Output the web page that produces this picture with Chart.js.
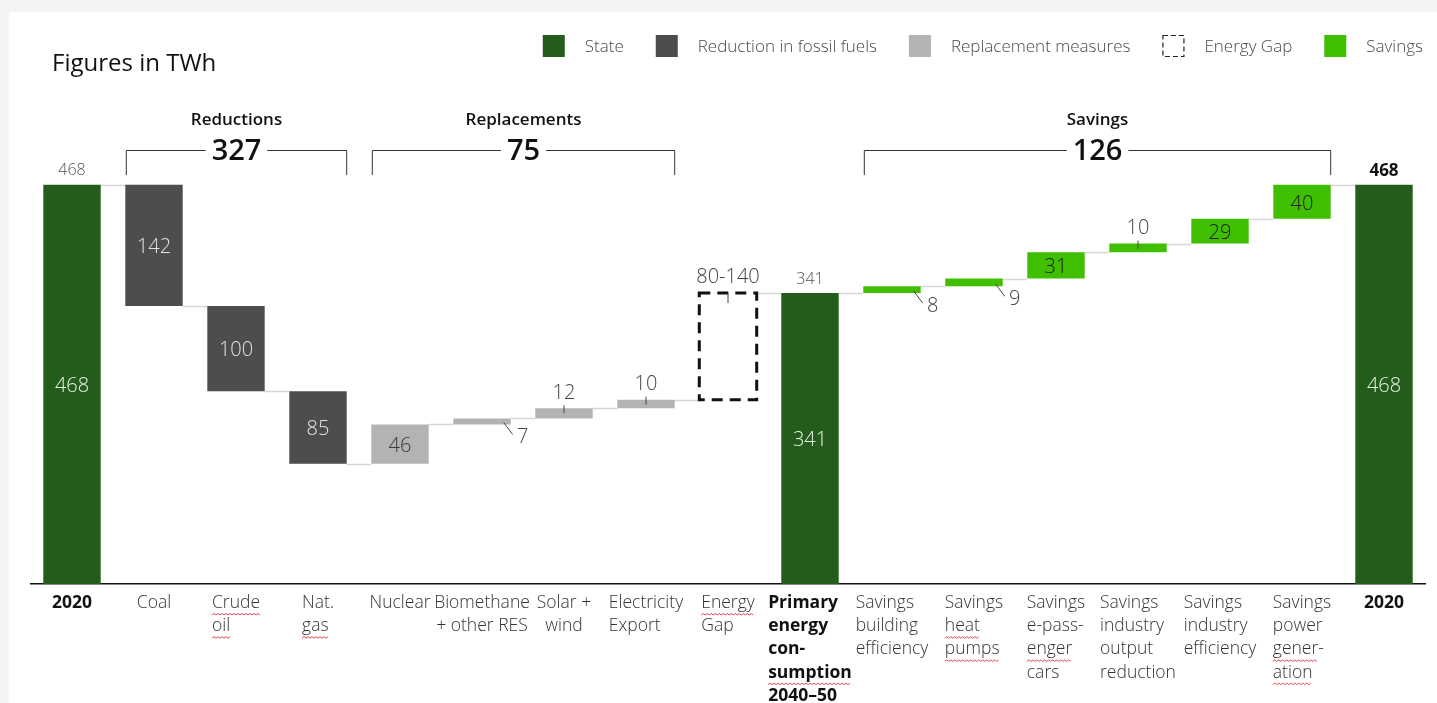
<!DOCTYPE html>
<html>
<head>
<meta charset="utf-8">
<script src="https://cdn.jsdelivr.net/npm/chart.js@4.4.0/dist/chart.umd.min.js"></script>
<style>
    html, body { margin: 0; padding: 0; background: #f4f4f4; }
    body { width: 1437px; height: 703px; overflow: hidden; position: relative; }
    .panel { position: absolute; left: 9px; top: 12px; width: 1428px; height: 691px; background: #fff; }
</style>
</head>
<body>
<div class="panel"><canvas id="myChart"></canvas></div>
<script>
'use strict';

/* data */
const categories = [
    ['2020'], ['Coal'], ['Crude', 'oil'], ['Nat.', 'gas'], ['Nuclear'],
    ['Biomethane', '+ other RES'], ['Solar +', 'wind'], ['Electricity', 'Export'], ['Energy', 'Gap'],
    ['Primary', 'energy', 'con-', 'sumption', '2040–50'],
    ['Savings', 'building', 'efficiency'], ['Savings', 'heat', 'pumps'], ['Savings', 'e-pass-', 'enger', 'cars'],
    ['Savings', 'industry', 'output', 'reduction'], ['Savings', 'industry', 'efficiency'],
    ['Savings', 'power', 'gener-', 'ation'], ['2020']
];
const steps = [468, -142, -100, -85, 46, 7, 12, 10, 125, 341, 8, 9, 31, 10, 29, 40, 468];
const stepKinds = ['state', 'reduction', 'reduction', 'reduction', 'replacement', 'replacement', 'replacement',
    'replacement', 'gap', 'state', 'saving', 'saving', 'saving', 'saving', 'saving', 'saving', 'state'];
const valueLabels = ['468', '142', '100', '85', '46', '7', '12', '10', '80-140', '341', '8', '9', '31', '10', '29', '40', '468'];
const groupTitles = ['Reductions', 'Replacements', 'Savings'];
const groupTotals = ['327', '75', '126'];
const groupFirst = [1, 4, 10];
const groupLast = [3, 7, 15];

/* styles */
const labelPlaces = ['in', 'in', 'in', 'in', 'in', 'below', 'above', 'above', 'gap', 'in',
    'below', 'below', 'in', 'above', 'in', 'in', 'in'];
const centeredLabels = [5, 6];
// spell-check squiggles seen under some category words ("category:line")
const squiggles = ['2:0', '2:1', '3:1', '8:0', '9:3', '11:1', '11:2', '12:2', '15:2', '15:3'];
const kinds = [
    { key: 'state', label: 'State', color: '#245c1b', text: '#e9f0e7' },
    { key: 'reduction', label: 'Reduction in fossil fuels', color: '#4d4d4d', text: '#e2e2e2' },
    { key: 'replacement', label: 'Replacement measures', color: '#b3b3b3', text: '#3a3a3a' },
    { key: 'gap', label: 'Energy Gap', color: 'rgba(0,0,0,0)', text: '#3a3a3a' },
    { key: 'saving', label: 'Savings', color: '#3fbf00', text: '#1c1c1c' }
];
const FONT = '"Open Sans", "Noto Sans", sans-serif';

/* running totals -> floating bars */
const ranges = [];
const running = [];
let level = 0;
steps.forEach(function(step, i) {
    if (stepKinds[i] === 'state') {
        ranges.push([0, step]);
        level = step;
    } else {
        ranges.push([level, level + step]);
        level += step;
    }
    running.push(level);
});

const datasets = kinds.map(function(kind) {
    return {
        label: kind.label,
        data: ranges.map(function(r, i) { return stepKinds[i] === kind.key ? r : null; }),
        backgroundColor: kind.color,
        borderWidth: 0,
        grouped: false,
        barPercentage: 0.7,
        categoryPercentage: 1
    };
});

function kindIndex(key) {
    return kinds.findIndex(function(k) { return k.key === key; });
}

function barBox(chart, i) {
    const el = chart.getDatasetMeta(kindIndex(stepKinds[i])).data[i];
    const half = el.width / 2;
    return { x: el.x, left: el.x - half, right: el.x + half,
        top: Math.min(el.y, el.base), bottom: Math.max(el.y, el.base) };
}

function txt(ctx, str, x, y, font, color, align) {
    ctx.font = font;
    ctx.fillStyle = color;
    ctx.textAlign = align || 'center';
    ctx.textBaseline = 'middle';
    ctx.fillText(str, x, y);
}

function line(ctx, x1, y1, x2, y2, color, width) {
    ctx.beginPath();
    ctx.strokeStyle = color;
    ctx.lineWidth = width;
    ctx.moveTo(x1, y1);
    ctx.lineTo(x2, y2);
    ctx.stroke();
}

function squiggle(ctx, x1, x2, y) {
    ctx.beginPath();
    ctx.strokeStyle = '#e5484d';
    ctx.lineWidth = 1;
    let up = true;
    ctx.moveTo(x1, y);
    for (let x = x1 + 2; x <= x2; x += 2) {
        ctx.lineTo(x, up ? y - 1.5 : y);
        up = !up;
    }
    ctx.stroke();
}

const waterfallPlugin = {
    id: 'waterfall',
    beforeDatasetsDraw: function(chart) {
        const ctx = chart.ctx;
        const yScale = chart.scales.y;
        ctx.save();
        for (let i = 0; i < steps.length - 1; i++) {
            const a = barBox(chart, i);
            const b = barBox(chart, i + 1);
            const y = Math.round(yScale.getPixelForValue(running[i])) + 0.5;
            line(ctx, a.right, y, b.left, y, '#d6d6d6', 1.5);
        }
        ctx.restore();
    },
    afterDatasetsDraw: function(chart) {
        const ctx = chart.ctx;
        const area = chart.chartArea;
        ctx.save();

        /* title */
        txt(ctx, 'Figures in TWh', 43, 52, '400 24px ' + FONT, '#111', 'left');

        /* legend, right aligned */
        const legendFont = '300 17px ' + FONT;
        ctx.font = legendFont;
        const widths = kinds.map(function(k) { return ctx.measureText(k.label).width; });
        let total = 0;
        widths.forEach(function(w) { total += 22 + 20 + w; });
        total += 32 * (kinds.length - 1);
        let lx = 1414 - total;
        kinds.forEach(function(k, n) {
            if (k.key === 'gap') {
                ctx.setLineDash([5, 3]);
                ctx.strokeStyle = '#222';
                ctx.lineWidth = 1.2;
                ctx.strokeRect(lx + 0.5, 23.5, 21, 21);
                ctx.setLineDash([]);
            } else {
                ctx.fillStyle = k.color;
                ctx.fillRect(lx, 23, 22, 22);
            }
            txt(ctx, k.label, lx + 42, 35, legendFont, '#4a4a4a', 'left');
            lx += 42 + widths[n] + 32;
        });

        /* group brackets */
        groupTitles.forEach(function(title, g) {
            const left = barBox(chart, groupFirst[g]).left + 1;
            const right = barBox(chart, groupLast[g]).right;
            const mid = (left + right) / 2;
            txt(ctx, title, mid, 108, '600 17px ' + FONT, '#111');
            ctx.font = '600 29px ' + FONT;
            const w = ctx.measureText(groupTotals[g]).width;
            txt(ctx, groupTotals[g], mid, 140, '600 29px ' + FONT, '#111');
            line(ctx, left, 163, left, 138.5, '#333', 1);
            line(ctx, left, 138.5, mid - w / 2 - 6, 138.5, '#333', 1);
            line(ctx, mid + w / 2 + 6, 138.5, right, 138.5, '#333', 1);
            line(ctx, right, 138.5, right, 163, '#333', 1);
        });

        /* bars: gap box and value labels */
        steps.forEach(function(step, i) {
            const box = barBox(chart, i);
            const kind = kinds[kindIndex(stepKinds[i])];
            const place = labelPlaces[i];
            if (stepKinds[i] === 'gap') {
                ctx.setLineDash([11, 7]);
                ctx.strokeStyle = '#111';
                ctx.lineWidth = 3;
                ctx.strokeRect(box.left, box.top, box.right - box.left, box.bottom - box.top);
                ctx.setLineDash([]);
            }
            if (place === 'in') {
                txt(ctx, valueLabels[i], box.x, (box.top + box.bottom) / 2 + 2, '300 20px ' + FONT, kind.text);
            } else if (place === 'above') {
                line(ctx, box.x, box.top - 3, box.x, box.top + 5, '#444', 1);
                txt(ctx, valueLabels[i], box.x, box.top - 15, '300 20px ' + FONT, '#444');
            } else if (place === 'gap') {
                line(ctx, box.x, box.top, box.x, box.top + 10, '#444', 1);
                txt(ctx, valueLabels[i], box.x, box.top - 16, '300 20px ' + FONT, '#444');
            } else if (place === 'below') {
                line(ctx, box.right - 7, box.bottom - 2, box.right + 2, box.bottom + 10, '#444', 1);
                txt(ctx, valueLabels[i], box.right + 12, box.bottom + 13, '300 20px ' + FONT, '#444');
            }
            if (stepKinds[i] === 'state') {
                const last = i === steps.length - 1;
                txt(ctx, valueLabels[i], box.x, box.top - 14,
                    (last ? '700 17px ' : '300 16px ') + FONT, last ? '#111' : '#555');
            }
        });

        /* category labels */
        categories.forEach(function(lines, i) {
            const x = chart.scales.x.getPixelForValue(i);
            const bold = stepKinds[i] === 'state';
            const font = (bold ? '700 17.5px ' : '300 17.5px ') + FONT;
            const centered = centeredLabels.indexOf(i) >= 0;
            ctx.font = font;
            let maxW = 0;
            lines.forEach(function(s) { maxW = Math.max(maxW, ctx.measureText(s).width); });
            lines.forEach(function(s, n) {
                const y = area.bottom + 19 + n * 23.2;
                ctx.font = font;
                const w = ctx.measureText(s).width;
                const sx = centered ? x - w / 2 : x - maxW / 2;
                txt(ctx, s, sx, y, font, bold ? '#111' : '#333', 'left');
                if (squiggles.indexOf(i + ':' + n) >= 0) {
                    const end = s.endsWith('-') ? sx + w - 6 : sx + w;
                    squiggle(ctx, sx, end, y + 12);
                }
            });
        });

        ctx.restore();
    }
};

const ctx = document.getElementById('myChart').getContext('2d');

const chart = new Chart(ctx, {
    type: 'bar',
    data: {
        labels: categories.map(function(c) { return c.join(' '); }),
        datasets: datasets
    },
    options: {
        responsive: true,
        maintainAspectRatio: false,
        animation: false,
        layout: { padding: { left: 22, right: 12, top: 90, bottom: 119 } },
        plugins: {
            legend: { display: false },
            tooltip: { enabled: false }
        },
        scales: {
            x: {
                grid: { display: false, drawTicks: false },
                ticks: { display: false },
                border: { display: true, color: '#111', width: 1.5 }
            },
            y: {
                display: false,
                min: 0,
                max: 565
            }
        }
    },
    plugins: [waterfallPlugin]
});
</script>
</body>
</html>
